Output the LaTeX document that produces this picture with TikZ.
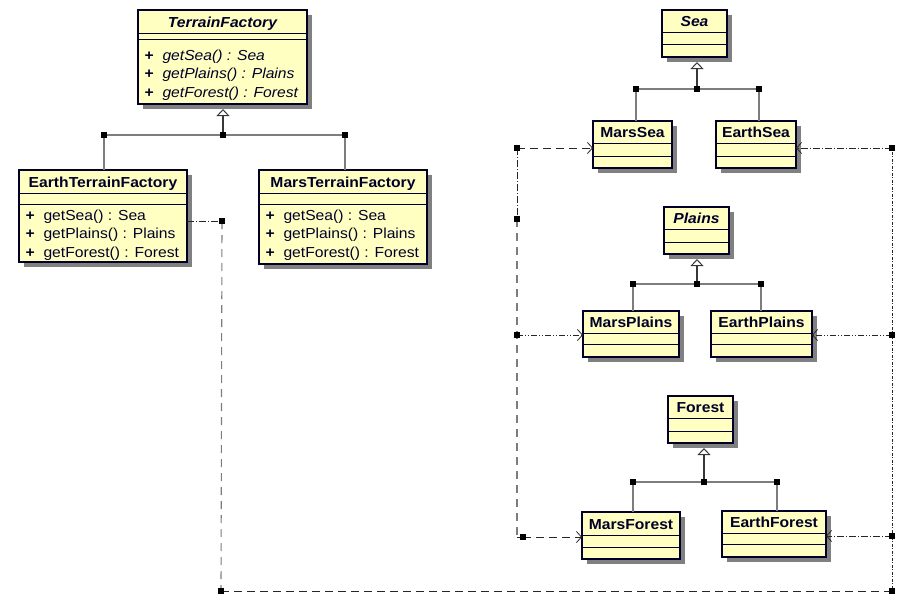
\documentclass[tikz,border=0pt]{standalone}
\usepackage{fontspec}
\newfontfamily\umlfont{Liberation Sans}[FakeStretch=1.08]
\usetikzlibrary{arrows.meta}

\definecolor{umlfill}{RGB}{255,255,194}
\definecolor{umlink}{RGB}{0,0,40}
\definecolor{umlshade}{RGB}{128,128,128}
\definecolor{umlgray}{RGB}{125,125,125}
\definecolor{umldark}{RGB}{55,55,55}

\tikzset{
  umlclass/.style={rectangle, draw=umlink, fill=umlfill, line width=1.2pt, inner sep=0pt, outer sep=0pt},
  umlsep/.style={draw=umlink, line width=1pt},
  umltext/.style={font=\umlfont\fontsize{14.5}{16}\selectfont, text=umlink, inner sep=0pt, outer sep=0pt},
  umltitle/.style={umltext, font=\umlfont\fontsize{14.5}{16}\selectfont\bfseries, anchor=base},
  umlmember/.style={umltext, anchor=base west},
  junction/.style={rectangle, fill=black, minimum size=6pt, inner sep=0pt, outer sep=0pt},
  childline/.style={draw=umlgray, line width=1.7pt},
  parentline/.style={draw=umldark, line width=1.8pt, shorten >=5pt,
    -{Triangle[open, width=13pt, length=7pt, line width=1pt]}},
  deparrow/.style={-{Straight Barb[length=5pt, width=11pt, line width=0.8pt]}},
  deplink/.style={draw=black!85, line width=0.9pt},
  depdashed/.style={deplink, dash pattern=on 8pt off 5pt},
  depdashdot/.style={deplink, dash pattern=on 7pt off 2pt on 1pt off 2pt},
  depdashdotdot/.style={deplink, dash pattern=on 6pt off 2pt on 1pt off 2pt on 1pt off 2pt},
  depdotted/.style={deplink, dash pattern=on 1pt off 1.5pt on 3pt off 1.5pt},
  depgray/.style={draw=umlgray, line width=1.1pt, dash pattern=on 8pt off 6pt},
}

% class box: name, left, top, right, bottom, first separator, second separator, title
\newcommand\umlbox[8]{%
  \fill[umlshade] ({#2+5},{#3+5}) rectangle ({#4+5},{#5+5});
  \node[umlclass, anchor=north west, minimum width={#4-#2}, minimum height={#5-#3}] (#1) at (#2,#3) {};
  \draw[umlsep] (#2,#6) -- (#4,#6) (#2,#7) -- (#4,#7);
  \node[umltitle] (#1-name) at ({(#2+#4)/2},{#6-6}) {#8};
}
% operation row: name, box left, baseline, text
\newcommand\umlrow[4]{%
  \node[umlmember, font=\umlfont\fontsize{14.5}{16}\selectfont\bfseries] (#1-plus) at ({#2+6.5},#3) {+};
  \node[umlmember] (#1) at ({#2+24.5},#3) {#4};
}

\begin{document}
\begin{tikzpicture}[x=1pt, y=-1pt]
\useasboundingbox (0,0) rectangle (913,606);

% ---------- factories ----------
\umlbox{tf}{138}{10}{307}{104}{33}{39}{\itshape TerrainFactory}
\umlrow{tf-r1}{138}{60}{\itshape getSea() : Sea}
\umlrow{tf-r2}{138}{78.5}{\itshape getPlains() : Plains}
\umlrow{tf-r3}{138}{97}{\itshape getForest() : Forest}

\umlbox{etf}{19}{170}{187}{262}{193}{204}{EarthTerrainFactory}
\umlrow{etf-r1}{19}{220}{getSea() : Sea}
\umlrow{etf-r2}{19}{238.5}{getPlains() : Plains}
\umlrow{etf-r3}{19}{257}{getForest() : Forest}

\umlbox{mtf}{259}{170}{427}{264}{193}{204}{MarsTerrainFactory}
\umlrow{mtf-r1}{259}{220}{getSea() : Sea}
\umlrow{mtf-r2}{259}{238.5}{getPlains() : Plains}
\umlrow{mtf-r3}{259}{257}{getForest() : Forest}

% ---------- products ----------
\umlbox{sea}{662}{10}{727}{57}{32}{44}{\itshape Sea}
\umlbox{msea}{593}{121}{672}{168}{143}{156}{MarsSea}
\umlbox{esea}{716}{121}{796}{168}{143}{156}{EarthSea}

\umlbox{pl}{664}{207}{729}{254}{229}{242}{\itshape Plains}
\umlbox{mpl}{583}{311}{679}{357}{333}{344}{MarsPlains}
\umlbox{epl}{711}{311}{812}{357}{333}{344}{EarthPlains}

\umlbox{fo}{668}{396}{733}{443}{418}{431}{Forest}
\umlbox{mfo}{582}{512}{680}{559}{535}{547}{MarsForest}
\umlbox{efo}{722}{511}{826}{557}{533}{544}{EarthForest}

% ---------- generalisation trees ----------
\coordinate (tfL) at (104,135); \coordinate (tfM) at (223,135); \coordinate (tfR) at (345,135);
\coordinate (seaL) at (636,89); \coordinate (seaM) at (697,89); \coordinate (seaR) at (759,89);
\coordinate (plL) at (633,284); \coordinate (plM) at (697,284); \coordinate (plR) at (761,284);
\coordinate (foL) at (633,482); \coordinate (foM) at (704,482); \coordinate (foR) at (777,482);

\draw[childline] (tfL) -- (tfR) (tfL) -- (tfL |- etf.north) (tfR) -- (tfR |- mtf.north);
\draw[parentline] (tfM) -- (tfM |- tf.south);
\draw[childline] (seaL) -- (seaR) (seaL) -- (seaL |- msea.north) (seaR) -- (seaR |- esea.north);
\draw[parentline] (seaM) -- (seaM |- sea.south);
\draw[childline] (plL) -- (plR) (plL) -- (plL |- mpl.north) (plR) -- (plR |- epl.north);
\draw[parentline] (plM) -- (plM |- pl.south);
\draw[childline] (foL) -- (foR) (foL) -- (foL |- mfo.north) (foR) -- (foR |- efo.north);
\draw[parentline] (foM) -- (foM |- fo.south);

% ---------- Mars dependencies ----------
\coordinate (mS) at (517,148);
\coordinate (mT) at (517,219);
\coordinate (mP) at (517,335);
\coordinate (mC) at (517,537);
\coordinate (mF) at (523,537);
\draw[depdashdot] (mS) -- (mT);
\draw[depgray] (mT) -- (mC);
\draw[depdashed] (mC) -- (mF);
\draw[depdashed, deparrow] (mS) -- (mS -| msea.west);
\draw[depdashdotdot, deparrow] (mP) -- (mP -| mpl.west);
\draw[depdashed, deparrow] (mF) -- (mF -| mfo.west);

% ---------- Earth dependencies ----------
\coordinate (eT) at (222,221);
\coordinate (eB) at (221,591);
\coordinate (eR) at (892,591);
\coordinate (eS) at (892,148);
\coordinate (eP) at (892,335);
\coordinate (eF) at (892,536);
\draw[depdashdot] (eT -| etf.east) -- (eT);
\draw[depgray] (eT) -- (eB);
\draw[depdashed] (eB) -- (eR);
\draw[depdotted] (eR) -- (eS);
\draw[depdashdot, deparrow] (eS) -- (eS -| esea.east);
\draw[depdashdotdot, deparrow] (eP) -- (eP -| epl.east);
\draw[depdashdot, deparrow] (eF) -- (eF -| efo.east);

% ---------- junction marks ----------
\foreach \p in {tfL,tfM,tfR,seaL,seaM,seaR,plL,plM,plR,foL,foM,foR,mS,mT,mP,mF,eT,eB,eR,eS,eP,eF}
  \node[junction] (\p-mark) at (\p) {};
\end{tikzpicture}
\end{document}
